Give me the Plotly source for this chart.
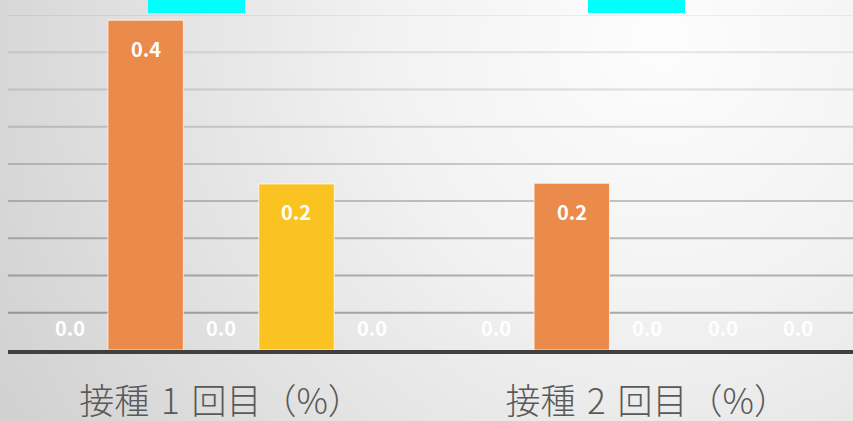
import base64
import plotly.graph_objects as go

# ---------------- data ----------------
categories = ["接種\u20041\u2004回目（%）", "接種\u20042\u2004回目（%）"]
series_names = ["系列1", "系列2", "系列3", "系列4", "系列5"]
series1 = [0.0, 0.0]
series2 = [0.443, 0.224]
series3 = [0.0, 0.0]
series4 = [0.223, 0.0]
series5 = [0.0, 0.0]
all_series = [series1, series2, series3, series4, series5]
grid_values = [0.05, 0.10, 0.15, 0.20, 0.25, 0.30, 0.35, 0.40, 0.45]

# ---------------- styles ----------------
colors = ["#6F9BD0", "#EB8B4B", "#B3B3B3", "#FAC322", "#7FB0DC"]
W, H = 853, 421
ML, MR, MT, MB = 8, 0, 15, 71
bar_w = 0.177
ymax = 0.45

fig = go.Figure()
n = len(all_series)
for j, (name, vals) in enumerate(zip(series_names, all_series)):
    xs = [i + (j - (n - 1) / 2) * bar_w for i in range(len(categories))]
    fig.add_trace(go.Bar(
        x=xs, y=vals, width=bar_w, name=name,
        marker=dict(color=colors[j],
                    line=dict(color="rgba(255,255,255,0.7)",
                              width=[1 if v > 0 else 0 for v in vals])),
        showlegend=False, hoverinfo="skip",
    ))
    for x, v in zip(xs, vals):
        fig.add_annotation(
            x=x, y=v, xref="x", yref="y", text=f"{v:.1f}", showarrow=False,
            yshift=-28 if v > 0 else 23,
            font=dict(family="Noto Sans CJK JP", size=20, color="white", weight="bold"),
        )

# gridlines (shading darker toward the bottom, as in the reference)
for k, gv in enumerate(grid_values):
    alpha = 0.40 - 0.33 * (gv / ymax)
    fig.add_shape(type="line", xref="paper", yref="y", x0=0, x1=1, y0=gv, y1=gv,
                  line=dict(color=f"rgba(40,40,40,{alpha:.3f})", width=2), layer="below")

# cyan blocks at top (cropped legend area)
pw = W - ML - MR
ph = H - MT - MB
for (a, b) in [(148, 245), (588, 685)]:
    fig.add_shape(type="rect", xref="paper", yref="paper",
                  x0=(a - ML) / pw, x1=(b - ML) / pw,
                  y0=1 + (MT - 13) / ph, y1=1 + MT / ph + 0.01,
                  fillcolor="#00FFFF", line=dict(width=0), layer="above")

# radial gradient background via inline SVG
svg = f'''<svg xmlns="http://www.w3.org/2000/svg" width="{W}" height="{H}">
<defs><radialGradient id="g" gradientUnits="userSpaceOnUse" cx="660" cy="40" r="780">
<stop offset="0" stop-color="#fdfdfd"/><stop offset="0.35" stop-color="#f2f2f2"/>
<stop offset="1" stop-color="#cfcfcf"/></radialGradient></defs>
<rect width="{W}" height="{H}" fill="url(#g)"/></svg>'''
src = "data:image/svg+xml;base64," + base64.b64encode(svg.encode()).decode()
fig.add_layout_image(dict(
    source=src, xref="paper", yref="paper",
    x=-ML / pw, y=1 + MT / ph, sizex=W / pw, sizey=H / ph,
    sizing="stretch", xanchor="left", yanchor="top", layer="below",
))

fig.update_layout(
    width=W, height=H,
    margin=dict(l=ML, r=MR, t=MT, b=MB, autoexpand=False),
    paper_bgcolor="#e2e2e2", plot_bgcolor="rgba(0,0,0,0)",
    barmode="overlay", showlegend=False,
    xaxis=dict(
        range=[-0.5, 1.483], tickmode="array", tickvals=list(range(len(categories))),
        ticktext=categories, showgrid=False, zeroline=False, automargin=False,
        showline=True, linecolor="#404040", linewidth=4,
        ticks="", ticklabelstandoff=18,
        tickfont=dict(family="Noto Sans CJK JP", size=35, color="#595959", weight=300),
    ),
    yaxis=dict(range=[0, ymax], showgrid=False, zeroline=False, automargin=False,
               showticklabels=False, ticks=""),
)

fig.write_html(
    "out.html",
    config={"displayModeBar": False},
    post_script="document.body.style.margin='0';document.body.style.overflow='hidden';",
)
